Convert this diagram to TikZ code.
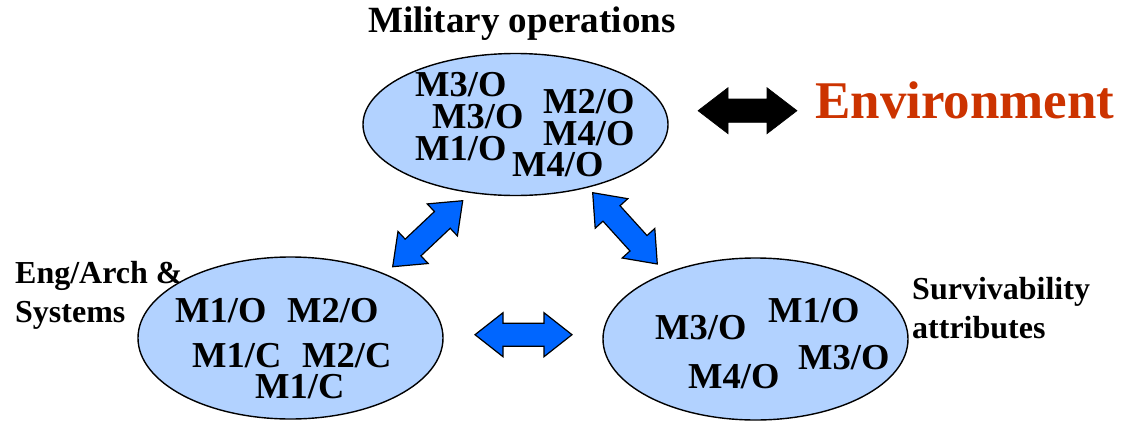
\documentclass[tikz,border=0pt]{standalone}
\usepackage{fontspec}
\setmainfont{Liberation Serif}
\usetikzlibrary{shapes.geometric,calc}

\definecolor{cloud}{RGB}{178,210,255}
\definecolor{linkblue}{RGB}{0,102,255}
\definecolor{envred}{RGB}{204,51,0}

% Block double arrow between two tips.
% #1 style, #2 first tip, #3 second tip, #4 head depth, #5 half head width, #6 half shaft width
\newcommand\blockarrow[6]{%
  \draw[#1] (#2)
    -- ($(#2)!#4!(#3)!#5!90:(#3)$) -- ($(#2)!#4!(#3)!#6!90:(#3)$)
    -- ($(#3)!#4!(#2)!#6!-90:(#2)$) -- ($(#3)!#4!(#2)!#5!-90:(#2)$)
    -- (#3)
    -- ($(#3)!#4!(#2)!#5!90:(#2)$) -- ($(#3)!#4!(#2)!#6!90:(#2)$)
    -- ($(#2)!#4!(#3)!#6!-90:(#3)$) -- ($(#2)!#4!(#3)!#5!-90:(#3)$)
    -- cycle;}

\begin{document}
\begin{tikzpicture}[x=1pt,y=-1pt,
  cloudnode/.style={ellipse, draw=black, line width=1.4pt, fill=cloud,
    inner sep=0pt, minimum width=305pt},
  tag/.style={anchor=base west, inner sep=0pt,
    font=\fontsize{36.5}{36.5}\selectfont\bfseries},
  side/.style={anchor=base west, inner sep=0pt, align=left,
    font=\fontsize{32}{38.5}\selectfont\bfseries},
  link/.style={fill=linkblue, draw=black, line width=1.2pt, line join=miter},
  envlink/.style={fill=black, draw=black, line width=0.6pt, line join=miter}]
\useasboundingbox (0,0) rectangle (1128,421);

% the three domains
\node[cloudnode, minimum height=142pt] (ops)  at (515.5,124.5) {};
\node[cloudnode, minimum height=162pt] (eng)  at (290.5,338) {};
\node[cloudnode, minimum height=162pt] (surv) at (755.5,339) {};

% titles (the base of a two-line label is its last line)
\node[anchor=base west, inner sep=0pt, font=\fontsize{37}{37}\selectfont\bfseries]
  (opsTitle) at (368,32) {Military operations};
\node[side] (engTitle) at (15,322) {Eng/Arch \&\\Systems};
\node[side] (survTitle) at (912,338) {Survivability\\attributes};
\node[anchor=base west, inner sep=0pt, text=envred,
  font=\fontsize{53}{53}\selectfont\bfseries] (env) at (815,118) {Environment};

% measures inside the operations ellipse
\node[tag] (o1) at (415,96)  {M3/O};
\node[tag] (o2) at (432,128) {M3/O};
\node[tag] (o3) at (415,160) {M1/O};
\node[tag] (o4) at (543,113) {M2/O};
\node[tag] (o5) at (543,145) {M4/O};
\node[tag] (o6) at (512,176) {M4/O};

% measures inside the engineering ellipse
\node[tag] (e1) at (175,322) {M1/O};
\node[tag] (e2) at (287,322) {M2/O};
\node[tag] (e3) at (192,367) {M1/C};
\node[tag] (e4) at (302,367) {M2/C};
\node[tag] (e5) at (255,398) {M1/C};

% measures inside the survivability ellipse
\node[tag] (s1) at (655,339) {M3/O};
\node[tag] (s2) at (768,322) {M1/O};
\node[tag] (s3) at (688,388) {M4/O};
\node[tag] (s4) at (798,369) {M3/O};

% arrow tips
\coordinate (opsL)  at (462.7,200.7);
\coordinate (engU)  at (392.7,266.7);
\coordinate (opsR)  at (592.7,192.7);
\coordinate (survU) at (657.3,264);
\coordinate (engR)  at (475,334.7);
\coordinate (survL) at (572,334.7);
\coordinate (opsE)  at (698,110.7);
\coordinate (envW)  at (797,110.7);

% links
\blockarrow{link}{engU}{opsL}{28pt}{22pt}{11.5pt}
\blockarrow{link}{opsR}{survU}{28pt}{22pt}{11.5pt}
\blockarrow{link}{engR}{survL}{28pt}{22pt}{11.5pt}
\blockarrow{envlink}{opsE}{envW}{30pt}{23pt}{11.7pt}
\end{tikzpicture}
\end{document}
